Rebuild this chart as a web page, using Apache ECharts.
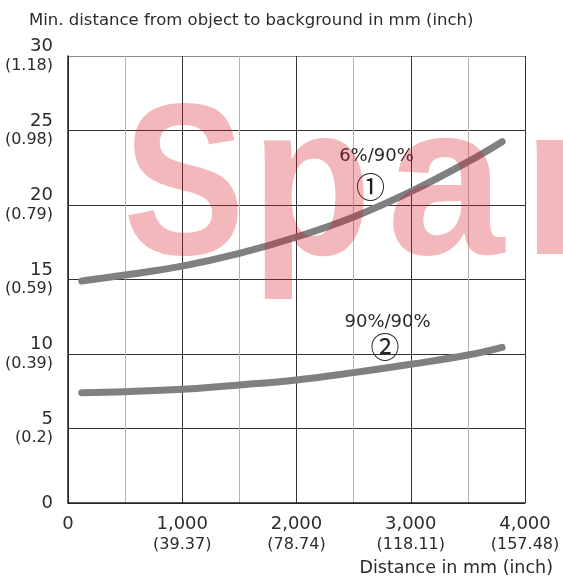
<!DOCTYPE html>
<html><head><meta charset="utf-8">
<script src="https://cdn.jsdelivr.net/npm/echarts@6/dist/echarts.min.js"></script>
<style>html,body{margin:0;padding:0;background:#fff}#c{width:563px;height:583px}</style>
</head><body><div id="c"></div>
<script>
// ---- data ----
const xTicksMm = [0, 1000, 2000, 3000, 4000];
const xTickInch = ['', '(39.37)', '(78.74)', '(118.11)', '(157.48)'];
const yTicksMm = [0, 5, 10, 15, 20, 25, 30];
const yTickInch = ['', '(0.2)', '(0.39)', '(0.59)', '(0.79)', '(0.98)', '(1.18)'];
const distMm  = [120, 500, 1000, 1500, 2000, 2500, 3000, 3500, 3800];
const curve1  = [14.9, 15.3, 15.9, 16.75, 17.85, 19.2, 20.9, 22.9, 24.25];
const curve2  = [7.4, 7.47, 7.63, 7.92, 8.26, 8.75, 9.31, 9.93, 10.45];
const seriesNames = ['6%/90%', '90%/90%'];
const seriesMarks = ['①', '②'];
const nameAt = [[2700, 23.3], [2797, 12.15]];
const markAt = [[2648, 21.24], [2775, 10.5]];
const yTitle = 'Min. distance from object to background in mm (inch)';
const xTitle = 'Distance in mm (inch)';
const watermarkLetters = ['S', 'p', 'a', 'r'];

// ---- chart ----
const FONT = '"DejaVu Sans", sans-serif';
const TXT = '#2b2b2b';
const chart = echarts.init(document.getElementById('c'), null, {renderer: 'canvas'});

function pairs(xs, ys) { return xs.map((x, i) => [x, ys[i]]); }

function annot(i) {
  return {
    symbol: 'circle', symbolSize: 1, silent: true,
    itemStyle: {color: 'rgba(0,0,0,0)'},
    label: {show: true, position: 'inside', formatter: p => p.name,
            fontFamily: FONT, fontSize: 18, color: TXT},
    data: [
      {name: seriesNames[i], coord: nameAt[i]},
      {name: seriesMarks[i], coord: markAt[i],
       label: {fontFamily: '"Noto Sans CJK JP", sans-serif', fontSize: 29, color: '#222'}}
    ]
  };
}

const lineStyle = {color: '#808083', width: 7, cap: 'round', join: 'round'};

// watermark letter placement (decorative overlay)
const wmX = [123, 251, 387, 522];
const wmScale = [0.85, 0.92, 0.98, 1.0];
const watermarkGraphics = watermarkLetters.map((ch, i) => ({
  type: 'text', z: 100, silent: true, x: wmX[i], y: 195, scaleX: wmScale[i],
  style: {text: ch, x: 0, y: 0, font: 'bold 215px "Liberation Sans", sans-serif',
          fill: 'rgba(215,20,30,0.3)', verticalAlign: 'middle', align: 'left'}
}));

chart.setOption({
  animation: false,
  backgroundColor: '#fff',
  grid: {left: 68, right: 38, top: 56, bottom: 80, containLabel: false, outerBoundsMode: 'none'},
  xAxis: {
    type: 'value', min: 0, max: 4000, interval: 1000,
    axisLine: {show: true, onZero: false, lineStyle: {color: '#222', width: 1.5}},
    axisTick: {show: false},
    minorTick: {show: false, splitNumber: 2},
    minorSplitLine: {show: true, lineStyle: {color: '#b4b4b4', width: 1}},
    splitLine: {show: true, lineStyle: {color: '#333', width: 1}},
    axisLabel: {
      margin: 11, hideOverlap: false, showMinLabel: true, showMaxLabel: true,
      verticalAlign: 'top',
      formatter: v => {
        const i = xTicksMm.indexOf(v);
        const mm = v.toLocaleString('en-US');
        const inch = i >= 0 ? xTickInch[i] : '';
        return inch ? `{a|${mm}}\n{b|${inch}}` : `{a|${mm}}`;
      },
      rich: {
        a: {fontFamily: FONT, fontSize: 18, lineHeight: 21, color: TXT, align: 'center'},
        b: {fontFamily: FONT, fontSize: 16, lineHeight: 19, color: TXT, align: 'center'}
      }
    }
  },
  yAxis: {
    type: 'value', min: 0, max: 30, interval: 5,
    axisLine: {show: true, onZero: false, lineStyle: {color: '#222', width: 1.5}},
    axisTick: {show: false},
    splitLine: {show: true, lineStyle: {color: ['#333', '#333', '#333', '#333', '#333', '#333', '#8a8a8a'], width: 1}},
    axisLabel: {
      margin: 15, hideOverlap: false, showMinLabel: true, showMaxLabel: true,
      formatter: v => {
        const i = yTicksMm.indexOf(v);
        const inch = i >= 0 ? yTickInch[i] : '';
        return inch ? `{a|${v}}\n{b|${inch}}` : `{a|${v}}`;
      },
      rich: {
        a: {fontFamily: FONT, fontSize: 18, lineHeight: 19, color: TXT, align: 'right'},
        b: {fontFamily: FONT, fontSize: 16, lineHeight: 19, color: TXT, align: 'right'}
      }
    }
  },
  series: [
    {name: seriesNames[0], type: 'line', smooth: 0.4, symbol: 'none', z: 3,
     lineStyle: lineStyle, data: pairs(distMm, curve1), markPoint: annot(0)},
    {name: seriesNames[1], type: 'line', smooth: 0.4, symbol: 'none', z: 3,
     lineStyle: lineStyle, data: pairs(distMm, curve2), markPoint: annot(1)}
  ],
  graphic: [
    {type: 'text', z: 10, silent: true,
     style: {text: yTitle, x: 29, y: 21, font: '16.5px ' + FONT, fill: TXT, verticalAlign: 'middle', align: 'left'}},
    {type: 'text', z: 10, silent: true,
     style: {text: xTitle, x: 553, y: 568, font: '17.5px ' + FONT, fill: TXT, verticalAlign: 'middle', align: 'right'}}
  ].concat(watermarkGraphics)
});
</script>
</body></html>
